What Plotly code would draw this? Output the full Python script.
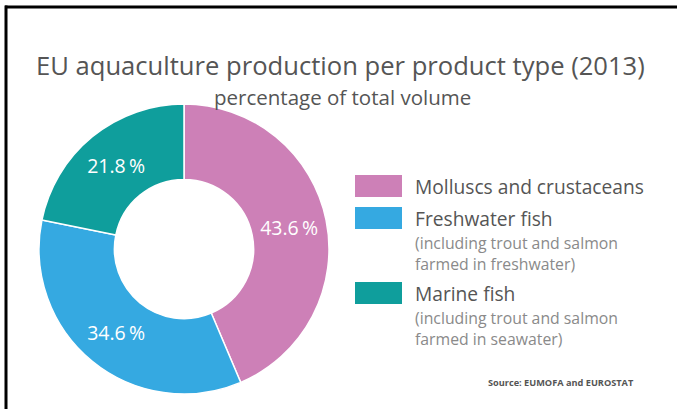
import plotly.graph_objects as go

categories = ["Molluscs and crustaceans", "Freshwater fish", "Marine fish"]
values = [43.6, 34.6, 21.8]
colors = ["#CD80B7", "#35A9E1", "#0F9E9C"]
subnotes = ["", "(including trout and salmon<br>farmed in freshwater)",
            "(including trout and salmon<br>farmed in seawater)"]

W, H = 677, 409
FONT = "Open Sans"

cx, cy, r = 184, 249, 145

fig = go.Figure()
fig.add_trace(go.Pie(
    labels=categories,
    values=values,
    hole=0.48,
    sort=False,
    direction="clockwise",
    rotation=0,
    marker=dict(colors=colors, line=dict(color="white", width=1.5)),
    texttemplate="%{value:.1f}\u2009%",
    textposition="inside",
    insidetextorientation="horizontal",
    textfont=dict(family=FONT, size=19.5, color="white"),
    showlegend=False,
    hoverinfo="label+percent",
    domain=dict(x=[(cx - r) / W, (cx + r) / W],
                y=[(H - cy - r) / H, (H - cy + r) / H]),
))

shapes = []
annotations = []

# legend built from the category lists
sw_x0, sw_x1 = 355, 402
sw_tops = [175, 207, 282]
for i, (cat, col, note) in enumerate(zip(categories, colors, subnotes)):
    t = sw_tops[i]
    shapes.append(dict(type="rect", xref="paper", yref="paper",
                       x0=sw_x0 / W, x1=sw_x1 / W,
                       y0=1 - (t + 22) / H, y1=1 - t / H,
                       fillcolor=col, line=dict(width=0)))
    annotations.append(dict(text=cat, xref="paper", yref="paper",
                            x=413 / W, y=1 - (t + 11) / H,
                            xanchor="left", yanchor="middle", showarrow=False,
                            font=dict(family=FONT, size=19.2, color="#555555")))
    if note:
        annotations.append(dict(text=note, xref="paper", yref="paper",
                                x=413 / W, y=1 - (t + 23) / H,
                                xanchor="left", yanchor="top", showarrow=False,
                                align="left",
                                font=dict(family=FONT, size=15.8, color="#8a8a8a")))

annotations.append(dict(text="EU aquaculture production per product type (2013)",
                        xref="paper", yref="paper", x=340 / W, y=1 - 65 / H,
                        xanchor="center", yanchor="middle", showarrow=False,
                        font=dict(family=FONT, size=25.6, color="#555555")))
annotations.append(dict(text="percentage of total volume",
                        xref="paper", yref="paper", x=342 / W, y=1 - 97 / H,
                        xanchor="center", yanchor="middle", showarrow=False,
                        font=dict(family=FONT, size=20.5, color="#555555")))
annotations.append(dict(text="<b>Source: EUMOFA and EUROSTAT</b>",
                        xref="paper", yref="paper", x=561 / W, y=1 - 382 / H,
                        xanchor="center", yanchor="middle", showarrow=False,
                        font=dict(family=FONT, size=9.2, color="#555555")))

# frame lines (top and left)
shapes.append(dict(type="line", xref="paper", yref="paper",
                   x0=5 / W, x1=1, y0=1 - 7 / H, y1=1 - 7 / H,
                   line=dict(color="black", width=3)))
shapes.append(dict(type="line", xref="paper", yref="paper",
                   x0=6 / W, x1=6 / W, y0=1 - 5.5 / H, y1=0,
                   line=dict(color="black", width=3)))

fig.update_layout(
    width=W, height=H,
    margin=dict(l=0, r=0, t=0, b=0),
    paper_bgcolor="white",
    plot_bgcolor="white",
    shapes=shapes,
    annotations=annotations,
)

fig.write_html("out.html",
               config={"displayModeBar": False},
               post_script="document.body.style.margin='0';document.body.style.overflow='hidden';")
